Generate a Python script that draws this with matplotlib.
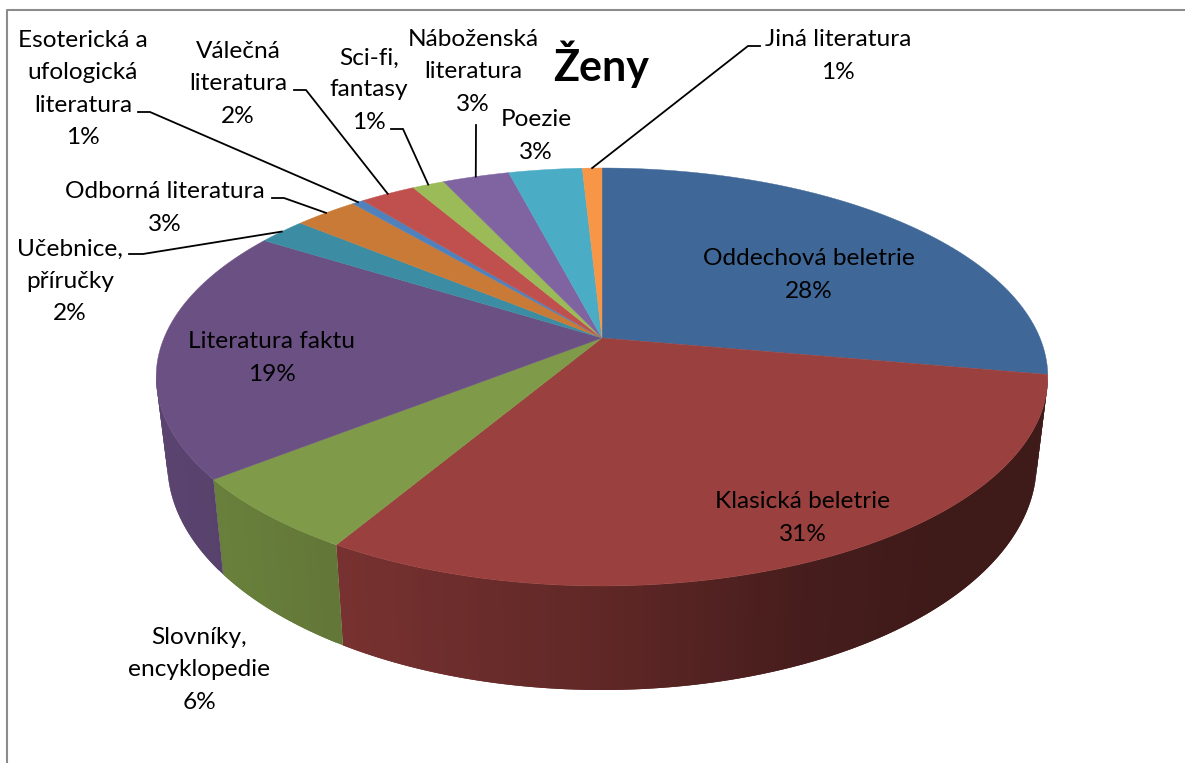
import numpy as np
import matplotlib.pyplot as plt

plt.rcParams['font.family'] = ['Lato', 'DejaVu Sans']

# slice shares, clockwise from 12 o'clock
names = ['Oddechová beletrie', 'Klasická beletrie', 'Slovníky,\nencyklopedie', 'Literatura faktu',
         'Učebnice,\npříručky', 'Odborná literatura', 'Esoterická a\nufologická\nliteratura',
         'Válečná\nliteratura', 'Sci-fi,\nfantasy', 'Náboženská\nliteratura', 'Poezie', 'Jiná literatura']
values = [27.8, 30.7, 5.85, 19.55, 2.1, 2.75, 0.5, 2.4, 1.4, 2.9, 3.2, 0.85]
percents = ['28%', '31%', '6%', '19%', '2%', '3%', '1%', '2%', '1%', '3%', '3%', '1%']
colors = ['#3f6797', '#9a403e', '#7f9a48', '#6a5083', '#3c8da3', '#c97a36',
          '#4f81bd', '#c0504d', '#9bbb59', '#8064a2', '#4bacc6', '#f79646']

# label centres in pixels
label_x = [809, 803, 199, 272, 70, 165, 83, 238, 369, 473, 536, 838]
label_y = [275, 518, 670, 358, 281, 208, 89, 84, 90, 72, 136, 56]

# leader lines: start and elbow, the end is on the rim of the slice
leaders = {4: [(129, 254), (143, 254)],
           5: [(272, 198), (284, 198)],
           6: [(138, 112), (150, 112)],
           7: [(294, 90), (306, 90)],
           8: [(391, 129), (403, 129)],
           9: [(476, 125)],
           11: [(760, 46), (748, 46)]}

# perspective of the pie, fitted in pixels
cx, cy = 602, 338
c, A, B = 0.1866, 138.65, 438


def rim(a):
    x = np.sin(a)
    y = np.cos(a)
    w = 1 + c * y
    return cx + B * x / w, (cy - A * y) / w


def lower_rim(a):
    x, y = rim(a)
    return cx + 0.975 * (x - cx), y + 95 + 0.085 * (y - 480)


def shade(color, x):
    f = np.interp(x, [168, 344, 600, 800, 950, 1037], [0.85, 0.77, 0.62, 0.46, 0.40, 0.40])
    rgb = np.array([int(color[i:i + 2], 16) for i in (1, 3, 5)]) / 255
    return tuple(rgb * f)


fig = plt.figure(figsize=(11.85, 7.63), dpi=100)
ax = fig.add_axes([0, 0, 1, 1])
ax.set_xlim(0, 1185)
ax.set_ylim(763, 0)
ax.axis('off')

# frame, only the left and top sides are in the crop
ax.plot([7, 7, 1185], [763, 10, 10], color='#8c8c8c', lw=1.5)

edges = np.cumsum([0] + values) / sum(values) * 2 * np.pi
front_start = np.pi / 2 + np.arcsin(c)
front_end = 3 * np.pi / 2 - np.arcsin(c)

# side wall, strips overlap the next one so no seams show, painted from the right
for i in range(len(values)):
    a0 = max(edges[i], front_start)
    a1 = min(edges[i + 1], front_end)
    if a1 <= a0:
        continue
    aa = np.linspace(a0, a1, int((a1 - a0) * 60) + 2)
    for j in range(len(aa) - 1):
        part = aa[j:min(j + 3, len(aa))]
        x1, y1 = rim(part)
        x2, y2 = lower_rim(part)
        col = shade(colors[i], (x1[0] + x1[1]) / 2)
        ax.fill(np.r_[x1, x2[::-1]], np.r_[y1, y2[::-1]], color=col, lw=0)

# top of the pie
for i in range(len(values)):
    aa = np.linspace(edges[i], edges[i + 1], 80)
    x, y = rim(aa)
    ax.fill(np.r_[cx, x], np.r_[cy, y], color=colors[i], lw=0.3)

for i, pts in leaders.items():
    ex, ey = rim((edges[i] + edges[i + 1]) / 2)
    xs = [p[0] for p in pts] + [ex]
    ys = [p[1] for p in pts] + [ey]
    ax.plot(xs, ys, color='black', lw=1.3, solid_joinstyle='miter')

for i in range(len(names)):
    ax.text(label_x[i], label_y[i], names[i] + '\n' + percents[i], ha='center', va='center',
            fontsize=17.6, color='black', linespacing=1.65)

ax.text(601, 64, 'Ženy', ha='center', va='center', fontsize=31, fontweight='bold', color='black')

fig.savefig('out.png', dpi=100)
